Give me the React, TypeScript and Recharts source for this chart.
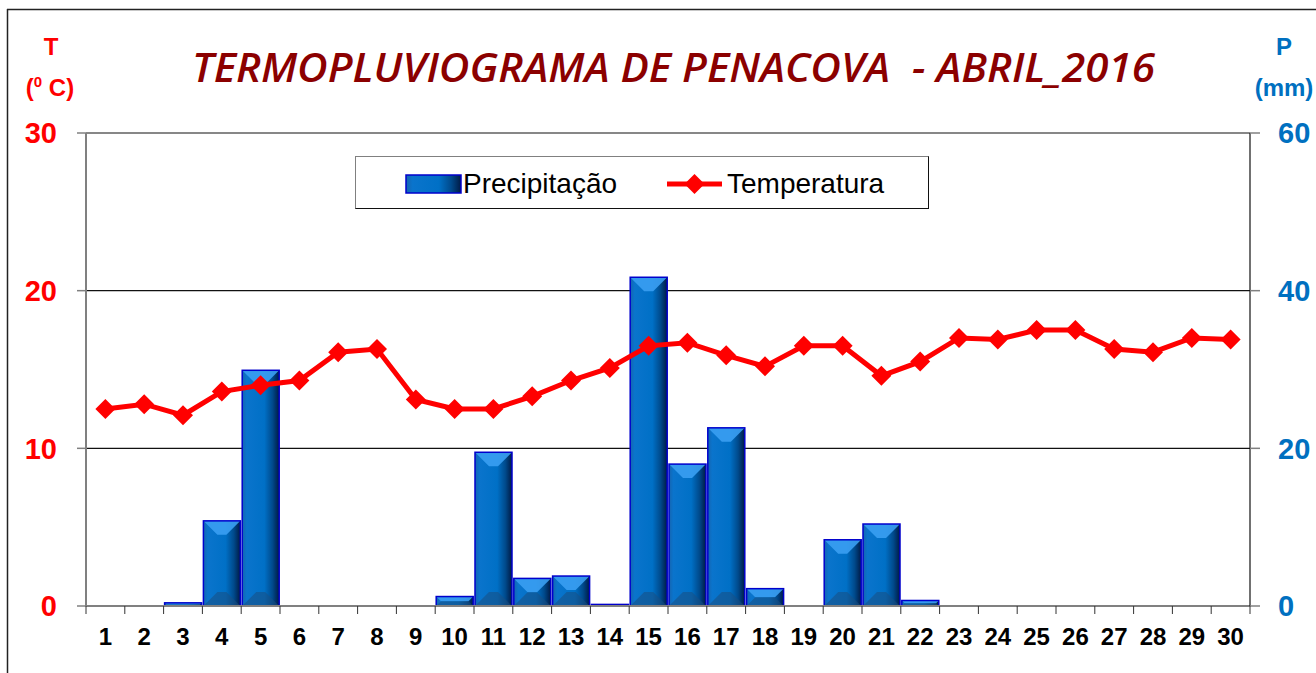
import React from 'react';
import { ComposedChart, Bar, Line, XAxis, YAxis, CartesianGrid } from 'recharts';

const CATEGORIES = ['1','2','3','4','5','6','7','8','9','10','11','12','13','14','15','16','17','18','19','20','21','22','23','24','25','26','27','28','29','30'];
const PRECIP = [0, 0, 0.4, 10.8, 29.9, 0, 0, 0, 0, 1.2, 19.5, 3.5, 3.8, 0.2, 41.7, 18.0, 22.6, 2.2, 0, 8.4, 10.4, 0.7, 0, 0, 0, 0, 0, 0, 0, 0];
const TEMP = [12.5, 12.8, 12.1, 13.6, 14.0, 14.3, 16.1, 16.3, 13.1, 12.5, 12.5, 13.3, 14.3, 15.1, 16.5, 16.7, 15.9, 15.2, 16.5, 16.5, 14.6, 15.5, 17.0, 16.9, 17.5, 17.5, 16.3, 16.1, 17.0, 16.9];
const T_TICKS = [0, 10, 20, 30];
const P_TICKS = [0, 20, 40, 60];

const TITLE = 'TERMOPLUVIOGRAMA DE PENACOVA  - ABRIL_2016';

const data = CATEGORIES.map((d, i) => ({ day: d, p: PRECIP[i], t: TEMP[i] }));

const FONT = '"Liberation Sans", Arial, sans-serif';

function BevelBar(props: any) {
  const { x, y, width, height } = props;
  if (height == null || height <= 0) return null;
  const b = Math.max(0, Math.min(14, height / 2, width / 2 - 4));
  return (
    <g>
      <rect x={x} y={y} width={width} height={height} fill="url(#barGrad)" />
      {b > 0 && (
        <polygon
          points={`${x},${y} ${x + width},${y} ${x + width - b},${y + b} ${x + b},${y + b}`}
          fill="#3a9ff2"
          opacity={0.9}
        />
      )}
      {b > 0 && (
        <polygon
          points={`${x},${y + height} ${x + width},${y + height} ${x + width - b},${y + height - b} ${x + b},${y + height - b}`}
          fill="#1a4f82"
          opacity={0.55}
        />
      )}
      <rect x={x} y={y} width={width} height={height} fill="none" stroke="#0000CC" strokeWidth={1.5} />
    </g>
  );
}

function Diamond(props: any) {
  const { cx, cy } = props;
  if (cx == null || cy == null) return null;
  const r = 10;
  return <polygon points={`${cx},${cy - r} ${cx + r},${cy} ${cx},${cy + r} ${cx - r},${cy}`} fill="#FF0000" />;
}

function XTick(props: any) {
  const { x, y, payload, index, width, visibleTicksCount } = props;
  const half = payload && payload.offset ? payload.offset : width / visibleTicksCount / 2;
  return (
    <g>
      <line x1={x - half} x2={x - half} y1={y} y2={y + 8} stroke="#333" strokeWidth={1} />
      {index === visibleTicksCount - 1 && (
        <line x1={x + half} x2={x + half} y1={y} y2={y + 8} stroke="#333" strokeWidth={1} />
      )}
      <text x={x} y={y + 39} textAnchor="middle" fontFamily={FONT} fontWeight="bold" fontSize={24} fill="#000">
        {payload.value}
      </text>
    </g>
  );
}

export default function App() {
  return (
    <div style={{ position: 'absolute', left: 0, top: 0, width: 1316, height: 673, background: '#fff', fontFamily: FONT }}>
      <svg width={0} height={0} style={{ position: 'absolute' }}>
        <defs>
          <linearGradient id="barGrad" x1="0" y1="0" x2="1" y2="0">
            <stop offset="0%" stopColor="#1565b0" />
            <stop offset="12%" stopColor="#0a74cc" />
            <stop offset="60%" stopColor="#0070c6" />
            <stop offset="82%" stopColor="#004a8c" />
            <stop offset="100%" stopColor="#001a45" />
          </linearGradient>
        </defs>
      </svg>
      <ComposedChart
        width={1316}
        height={673}
        data={data}
        margin={{ top: 133, right: 6, bottom: 7, left: 26 }}
        barCategoryGap={1}
      >
        <CartesianGrid yAxisId="left" vertical={false} horizontal={true} stroke="#111" strokeWidth={1.2} />
        <XAxis
          dataKey="day"
          height={60}
          tickSize={0}
          tickMargin={0}
          tickLine={false}
          axisLine={{ stroke: '#808080', strokeWidth: 2 }}
          tick={<XTick />}
          interval={0}
        />
        <YAxis
          yAxisId="left"
          orientation="left"
          width={60}
          domain={[0, 30]}
          ticks={T_TICKS}
          interval={0}
          tickSize={9}
          tickMargin={20}
          axisLine={{ stroke: '#808080', strokeWidth: 2 }}
          tickLine={{ stroke: '#808080', strokeWidth: 1.5 }}
          tick={{ fill: '#FF0000', fontSize: 29, fontWeight: 'bold', fontFamily: FONT }}
        />
        <YAxis
          yAxisId="right"
          orientation="right"
          width={60}
          domain={[0, 60]}
          ticks={P_TICKS}
          interval={0}
          tickSize={10}
          tickMargin={18}
          axisLine={{ stroke: '#111', strokeWidth: 1.2 }}
          tickLine={{ stroke: '#808080', strokeWidth: 1.5 }}
          tick={{ fill: '#0070C0', fontSize: 29, fontWeight: 'bold', fontFamily: FONT, textAnchor: 'start' }}
        />
        <Bar yAxisId="right" dataKey="p" shape={<BevelBar />} isAnimationActive={false} />
        <Line
          yAxisId="left"
          dataKey="t"
          type="linear"
          stroke="#FF0000"
          strokeWidth={5}
          dot={<Diamond />}
          activeDot={false}
          isAnimationActive={false}
        />
      </ComposedChart>
      <svg width={1316} height={673} style={{ position: 'absolute', left: 0, top: 0, pointerEvents: 'none' }}>
        <line x1={7.5} y1={9} x2={7.5} y2={673} stroke="#222" strokeWidth={1.5} />
        <line x1={7} y1={9.5} x2={1316} y2={9.5} stroke="#222" strokeWidth={1.5} />
        <text
          x={192}
          y={82}
          textLength={963}
          lengthAdjust="spacingAndGlyphs"
          fontFamily='"Open Sans", "Noto Sans", sans-serif'
          fontStyle="italic"
          fontWeight={600}
          fontSize={39}
          fill="#8B0000"
          style={{ whiteSpace: 'pre' }}
        >
          {TITLE}
        </text>
        <text x={51} y={55} textAnchor="middle" fontFamily={FONT} fontWeight="bold" fontSize={24} fill="#FF0000">T</text>
        <text x={50} y={96} textAnchor="middle" fontFamily={FONT} fontWeight="bold" fontSize={24} fill="#FF0000">
          (<tspan fontSize={15} dy={-9}>0</tspan><tspan dy={9}> C)</tspan>
        </text>
        <text x={1284} y={55} textAnchor="middle" fontFamily={FONT} fontWeight="bold" fontSize={24} fill="#0070C0">P</text>
        <text x={1284} y={96} textAnchor="middle" fontFamily={FONT} fontWeight="bold" fontSize={24} fill="#0070C0">(mm)</text>
      </svg>
      <div
        style={{
          position: 'absolute',
          left: 355,
          top: 156,
          width: 572,
          height: 51,
          borderTop: '1px solid #808080',
          borderLeft: '1px solid #808080',
          borderRight: '1.5px solid #111',
          borderBottom: '1.5px solid #111',
          background: '#fff',
        }}
      >
        <svg width={572} height={51} style={{ position: 'absolute', left: 0, top: 0 }}>
          <rect x={50} y={18} width={55} height={18} fill="url(#barGrad)" stroke="#0000CC" strokeWidth={1.5} />
          <text x={107} y={36} fontFamily={FONT} fontSize={28} fill="#000">Precipitação</text>
          <line x1={311} x2={366} y1={27} y2={27} stroke="#FF0000" strokeWidth={5} />
          <polygon points="338.5,17 348.5,27 338.5,37 328.5,27" fill="#FF0000" />
          <text x={371} y={36} fontFamily={FONT} fontSize={28} fill="#000">Temperatura</text>
        </svg>
      </div>
    </div>
  );
}
